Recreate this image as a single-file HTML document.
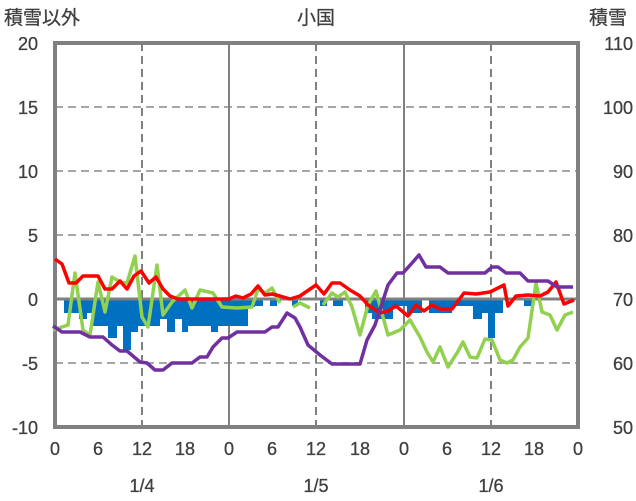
<!DOCTYPE html><html><head><meta charset="utf-8"><style>body{margin:0;background:#fff}svg{display:block}text{font-family:"Liberation Sans","Noto Sans CJK JP",sans-serif;fill:#404040;stroke:#404040;stroke-width:0.3}</style></head><body>
<svg width="636" height="501" viewBox="0 0 636 501" xmlns="http://www.w3.org/2000/svg">
<g stroke="#a6a6a6" stroke-width="2" stroke-dasharray="8,5">
<line x1="55" y1="107" x2="578" y2="107"/><line x1="55" y1="171" x2="578" y2="171"/><line x1="55" y1="235" x2="578" y2="235"/><line x1="55" y1="363" x2="578" y2="363"/>
</g>
<g stroke="#808080" stroke-width="2" stroke-dasharray="8,5">
<line x1="142" y1="43" x2="142" y2="427"/><line x1="316" y1="43" x2="316" y2="427"/><line x1="491" y1="43" x2="491" y2="427"/>
</g>
<g stroke="#808080" stroke-width="2"><line x1="229" y1="43" x2="229" y2="427"/><line x1="404" y1="43" x2="404" y2="427"/></g>
<g fill="#0070c0">
<rect x="64" y="299" width="15" height="14"/><rect x="79" y="299" width="8" height="20"/><rect x="87" y="299" width="6" height="14"/><rect x="93" y="299" width="15" height="27"/><rect x="108" y="299" width="9" height="39"/><rect x="117" y="299" width="6" height="27"/><rect x="123" y="299" width="8" height="51"/><rect x="131" y="299" width="7" height="33"/><rect x="138" y="299" width="22" height="27"/><rect x="160" y="299" width="7" height="20"/><rect x="167" y="299" width="8" height="33"/><rect x="175" y="299" width="7" height="20"/><rect x="182" y="299" width="6" height="33"/><rect x="188" y="299" width="23" height="27"/><rect x="211" y="299" width="7" height="33"/><rect x="218" y="299" width="14" height="27"/><rect x="232" y="299" width="16" height="27"/><rect x="248" y="299" width="7" height="8"/><rect x="255" y="299" width="8" height="7"/><rect x="270" y="299" width="7" height="7"/><rect x="292" y="299" width="6" height="7"/>
<rect x="320" y="299" width="7" height="7"/><rect x="333" y="299" width="10" height="7"/><rect x="365" y="299" width="7" height="14"/><rect x="372" y="299" width="21" height="20"/><rect x="393" y="299" width="14" height="7"/><rect x="407" y="299" width="15" height="14"/><rect x="429" y="299" width="23" height="14"/><rect x="452" y="299" width="21" height="7"/><rect x="473" y="299" width="9" height="20"/><rect x="482" y="299" width="6" height="14"/><rect x="488" y="299" width="7" height="39"/><rect x="495" y="299" width="8" height="14"/><rect x="524" y="299" width="8" height="7"/>
</g>
<line x1="55" y1="299" x2="578" y2="299" stroke="#808080" stroke-width="3"/>
<rect x="55" y="43" width="523" height="384" fill="none" stroke="#808080" stroke-width="4"/>
<g fill="none" stroke-width="3.5" stroke-linejoin="round">
<polyline stroke="#92d050" points="53,330 68,325 75,273 83,330 90,335 98,282 105,312 112,277 120,282 127,283 135,256 142,317 148,327 157,265 163,315 172,302 185,290 192,308 200,290 213,293 222,307 237,308 252,307 258,289 265,293 272,288 280,303"/>
<polyline stroke="#92d050" points="293,307 300,303 310,308"/>
<polyline stroke="#92d050" points="323,305 332,293 338,297 345,292 352,307 360,335 368,305 376,291 383,317 388,335 400,330 410,320 420,337 427,352 433,362 440,347 448,367 457,353 463,342 470,357 477,358 485,339 492,340 500,360 507,363 513,360 520,347 528,338 536,283 542,312 550,315 557,330 565,315 573,312"/>
<polyline stroke="#ff0000" points="55,259 62,264 69,283 76,283 83,276 98,276 105,289 112,289 120,281 127,289 134,276 141,271 149,283 156,277 163,289 170,296 178,299 229,299 236,296 243,298 251,294 258,286 265,295 272,294 280,296 290,299 300,296 316,285 324,294 332,283 340,283 350,290 360,296 368,305 380,313 388,311 396,306 408,316 416,305 424,311 432,305 440,309 452,309 464,293 476,294 490,292 500,287 504,285 508,306 516,296 528,295 540,296 548,292 556,282 564,304 574,300"/>
<polyline stroke="#7030a0" points="53,326 62,332 80,332 90,337 103,337 112,345 120,351 127,351 140,362 147,363 155,370 163,370 172,363 192,363 200,357 207,357 213,347 222,338 228,338 237,332 265,332 272,327 278,327 287,313 295,318 300,327 308,345 320,355 332,364 360,364 367,340 375,325 388,285 397,273 403,273 412,263 419,255 426,267 440,267 448,273 485,273 492,267 498,267 506,273 520,273 528,281 548,281 557,287 573,287"/>
</g>
<g font-size="18" text-anchor="end">
<text x="38" y="50">20</text><text x="38" y="114">15</text><text x="38" y="178">10</text><text x="38" y="242">5</text><text x="38" y="306">0</text><text x="38" y="370">-5</text><text x="38" y="434">-10</text>
</g>
<g font-size="18" text-anchor="end">
<text x="633" y="50">110</text><text x="633" y="114">100</text><text x="633" y="178">90</text><text x="633" y="242">80</text><text x="633" y="306">70</text><text x="633" y="370">60</text><text x="633" y="434">50</text>
</g>
<g font-size="18" text-anchor="middle">
<text x="55" y="455">0</text><text x="98" y="455">6</text><text x="142" y="455">12</text><text x="185" y="455">18</text><text x="229" y="455">0</text><text x="272" y="455">6</text><text x="316" y="455">12</text><text x="360" y="455">18</text><text x="404" y="455">0</text><text x="447" y="455">6</text><text x="491" y="455">12</text><text x="534" y="455">18</text><text x="578" y="455">0</text>
<text x="142" y="492">1/4</text><text x="316" y="492">1/5</text><text x="491" y="492">1/6</text>
<text x="316" y="24" font-size="19">小国</text>
</g>
<text x="4" y="24" font-size="19">積雪以外</text>
<text x="589" y="24" font-size="19">積雪</text>
</svg></body></html>
